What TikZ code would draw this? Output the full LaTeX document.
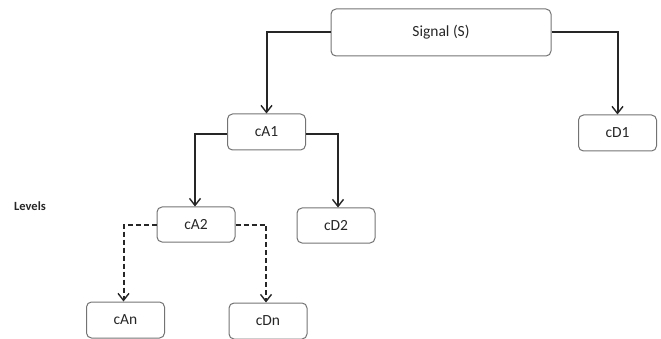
\documentclass[tikz,border=0pt]{standalone}
\usepackage{fontspec}
\setmainfont{Carlito}
\usepackage{tikz}
\usetikzlibrary{arrows.meta, positioning}

\begin{document}
\begin{tikzpicture}[
    x=1pt, y=-1pt,
    >={Straight Barb[length=7pt, width=11pt, line width=1.4pt]},
    coefbox/.style={draw=black!55, line width=1pt, rounded corners=5pt, inner sep=0pt,
        minimum width=78pt, minimum height=36pt, font=\fontsize{15.5}{18}\selectfont, text=black!85},
    solidlink/.style={->, line width=2pt, black!85},
    dashlink/.style={->, dashed, dash pattern=on 5pt off 3pt, line width=2pt, black!85}
]
\useasboundingbox (0,0) rectangle (661,339);

% ==================== DECOMPOSITION TREE ====================
\node[coefbox, minimum width=220pt, minimum height=47pt] (sig) at (441, 32.5) {Signal (S)};

\node[coefbox] (ca1) at (266.5, 132) {cA1};
\node[coefbox] (cd1) at (617.5, 133) {cD1};

\node[coefbox, minimum height=35pt] (ca2) at (196, 224.5) {cA2};
\node[coefbox, minimum height=35pt] (cd2) at (336, 225.5) {cD2};

\node[coefbox] (can) at (125.5, 320) {cAn};
\node[coefbox] (cdn) at (268, 321) {cDn};

% Level label
\node[font=\fontsize{12.5}{14}\selectfont\bfseries, text=black!85] (levels) at (30, 206) {Levels};

% Links
\draw[solidlink] (sig.west) -| (ca1.north);
\draw[solidlink] (sig.east) -| (cd1.north);
\draw[solidlink] ([yshift=-2pt]ca1.west) -| ([xshift=-1pt]ca2.north);
\draw[solidlink] ([yshift=-2pt]ca1.east) -| ([xshift=2pt]cd2.north);
\draw[dashlink] (ca2.west) -| ([xshift=-2pt]can.north);
\draw[dashlink] (ca2.east) -| ([xshift=-2pt]cdn.north);

\end{tikzpicture}
\end{document}
